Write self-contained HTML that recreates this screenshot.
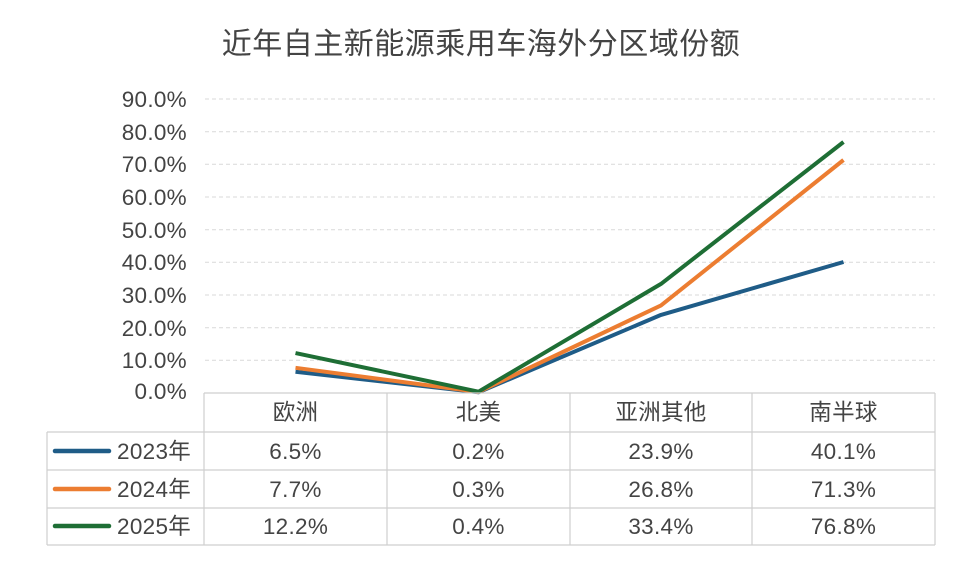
<!DOCTYPE html>
<html><head><meta charset="utf-8"><style>
body{margin:0;background:#fff;}
svg text{font-family:"Liberation Sans","Noto Sans CJK SC",sans-serif;fill:#444;}
</style></head><body>
<svg width="962" height="578" viewBox="0 0 962 578" xmlns="http://www.w3.org/2000/svg">
<rect width="962" height="578" fill="#fff"/>
<text x="481" y="54" font-size="30" text-anchor="middle" fill="#333" letter-spacing="0.5">近年自主新能源乘用车海外分区域份额</text>
<g stroke="#d9d9d9" stroke-width="1" stroke-dasharray="4,3">
<line x1="205" x2="935" y1="99" y2="99"/><line x1="205" x2="935" y1="131.7" y2="131.7"/>
<line x1="205" x2="935" y1="164.3" y2="164.3"/><line x1="205" x2="935" y1="197" y2="197"/>
<line x1="205" x2="935" y1="229.7" y2="229.7"/><line x1="205" x2="935" y1="262.3" y2="262.3"/>
<line x1="205" x2="935" y1="295" y2="295"/><line x1="205" x2="935" y1="327.7" y2="327.7"/>
<line x1="205" x2="935" y1="360.3" y2="360.3"/>
</g>
<g font-size="22.5" text-anchor="end" letter-spacing="0.3">
<text x="187" y="107">90.0%</text><text x="187" y="140">80.0%</text><text x="187" y="172">70.0%</text>
<text x="187" y="205">60.0%</text><text x="187" y="238">50.0%</text><text x="187" y="270">40.0%</text>
<text x="187" y="303">30.0%</text><text x="187" y="336">20.0%</text><text x="187" y="368">10.0%</text>
<text x="187" y="399">0.0%</text>
</g>
<g fill="none" stroke-width="4" stroke-linejoin="round">
<polyline stroke="#1f5c87" points="295.5,371.8 478.5,392.3 661,314.9 843.5,262"/>
<polyline stroke="#ec7d31" points="295.5,367.8 478.5,392 661,305.4 843.5,160"/>
<polyline stroke="#1e6e35" points="295.5,353.1 478.5,391.7 661,283.9 843.5,142"/>
</g>
<g stroke="#cfcfcf" stroke-width="1.2" fill="none">
<line x1="204" y1="393" x2="935" y2="393"/>
<line x1="47" y1="432" x2="935" y2="432"/>
<line x1="47" y1="470" x2="935" y2="470"/>
<line x1="47" y1="508" x2="935" y2="508"/>
<line x1="47" y1="545" x2="935" y2="545"/>
<line x1="47" y1="432" x2="47" y2="545"/>
<line x1="204" y1="393" x2="204" y2="545"/>
<line x1="387" y1="393" x2="387" y2="545"/>
<line x1="570" y1="393" x2="570" y2="545"/>
<line x1="752" y1="393" x2="752" y2="545"/>
<line x1="935" y1="393" x2="935" y2="545"/>
</g>
<g stroke-width="4.5" stroke-linecap="round">
<line x1="55" y1="451" x2="109" y2="451" stroke="#1f5c87"/>
<line x1="55" y1="489" x2="109" y2="489" stroke="#ec7d31"/>
<line x1="55" y1="526" x2="109" y2="526" stroke="#1e6e35"/>
</g>
<g font-size="22.5" letter-spacing="0.3">
<text x="117" y="459">2023年</text><text x="117" y="497">2024年</text><text x="117" y="534">2025年</text>
</g>
<g font-size="22.5" text-anchor="middle" letter-spacing="0.3">
<text x="295.5" y="420">欧洲</text><text x="478.5" y="420">北美</text><text x="661" y="420">亚洲其他</text><text x="843.5" y="420">南半球</text>
<text x="295.5" y="459">6.5%</text><text x="478.5" y="459">0.2%</text><text x="661" y="459">23.9%</text><text x="843.5" y="459">40.1%</text>
<text x="295.5" y="497">7.7%</text><text x="478.5" y="497">0.3%</text><text x="661" y="497">26.8%</text><text x="843.5" y="497">71.3%</text>
<text x="295.5" y="534">12.2%</text><text x="478.5" y="534">0.4%</text><text x="661" y="534">33.4%</text><text x="843.5" y="534">76.8%</text>
</g>
</svg>
</body></html>
